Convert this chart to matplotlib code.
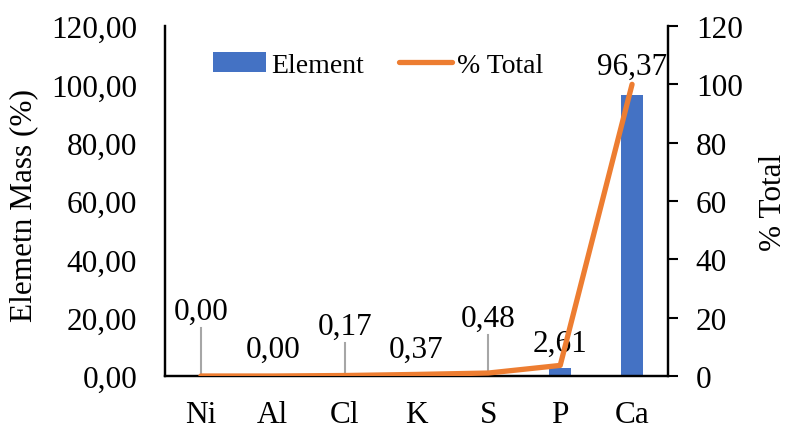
import matplotlib
matplotlib.use("Agg")
import matplotlib.pyplot as plt
from matplotlib.ticker import FuncFormatter
import numpy as np

categories = ["Ni", "Al", "Cl", "K", "S", "P", "Ca"]
element = [0.00, 0.00, 0.17, 0.37, 0.48, 2.61, 96.37]
pct_total = [0.0, 0.0, 0.17, 0.54, 1.02, 3.63, 100.0]
labels = ["0,00", "0,00", "0,17", "0,37", "0,48", "2,61", "96,37"]
label_base = [19.5, 6.5, 14.4, 6.5, 17.1, 8.6, 103.5]   # label baselines (left axis units)
leader = [True, False, True, False, True, False, False]

plt.rcParams['font.family'] = ['Liberation Serif', 'DejaVu Serif']
fs = 22.5

fig = plt.figure(figsize=(7.86, 4.31), dpi=100)
ax = fig.add_axes([165/786, 1-377/431, 503/786, 350/431])
ax2 = ax.twinx()

x = np.arange(len(categories))
bars = ax.bar(x, element, width=0.3, color="#4472C4", label="Element", zorder=2)
line, = ax2.plot(x, pct_total, color="#ED7D31", lw=3.8, solid_capstyle="round", label="% Total", zorder=3)

ax.set_ylim(0, 120)
ax2.set_ylim(0, 120)
ax.set_xlim(-0.5, len(categories) - 0.5)
ax.set_yticks(np.arange(0, 121, 20))
ax2.set_yticks(np.arange(0, 121, 20))
ax.yaxis.set_major_formatter(FuncFormatter(lambda v, p: f"{v:.2f}".replace(".", ",")))
ax.set_xticks(x)
ax.set_xticklabels(categories)

for a in (ax, ax2):
    a.tick_params(labelsize=fs, width=1.5, length=7)
    for s in a.spines.values():
        s.set_linewidth(1.6)
    a.spines["top"].set_visible(False)
ax.tick_params(axis="x", length=0, pad=17)
ax.tick_params(axis="y", length=0, pad=20)
ax2.tick_params(axis="y", pad=13)

ax.set_ylabel("Elemetn Mass (%)", fontsize=fs)
ax2.set_ylabel("% Total", fontsize=fs)
ax.yaxis.set_label_coords(-0.252, 0.49)
ax2.yaxis.set_label_coords(1.18, 0.5)

for i, (lab, lb, ld) in enumerate(zip(labels, label_base, leader)):
    ax.text(x[i], lb, lab, ha="center", va="baseline", fontsize=fs, zorder=5)
    if ld:
        ax.plot([x[i], x[i]], [element[i] + 0.3, lb - 3.0], color="#A6A6A6", lw=1.5, zorder=1)

ax.legend([bars, line], ["Element", "% Total"], loc="center left",
          bbox_to_anchor=(213/786, 1-66/431), bbox_transform=fig.transFigure,
          ncol=2, frameon=False, fontsize=20, handlelength=1.9, handletextpad=0.2,
          columnspacing=1.25, borderpad=0, borderaxespad=0)

fig.savefig("out.png", dpi=100)
